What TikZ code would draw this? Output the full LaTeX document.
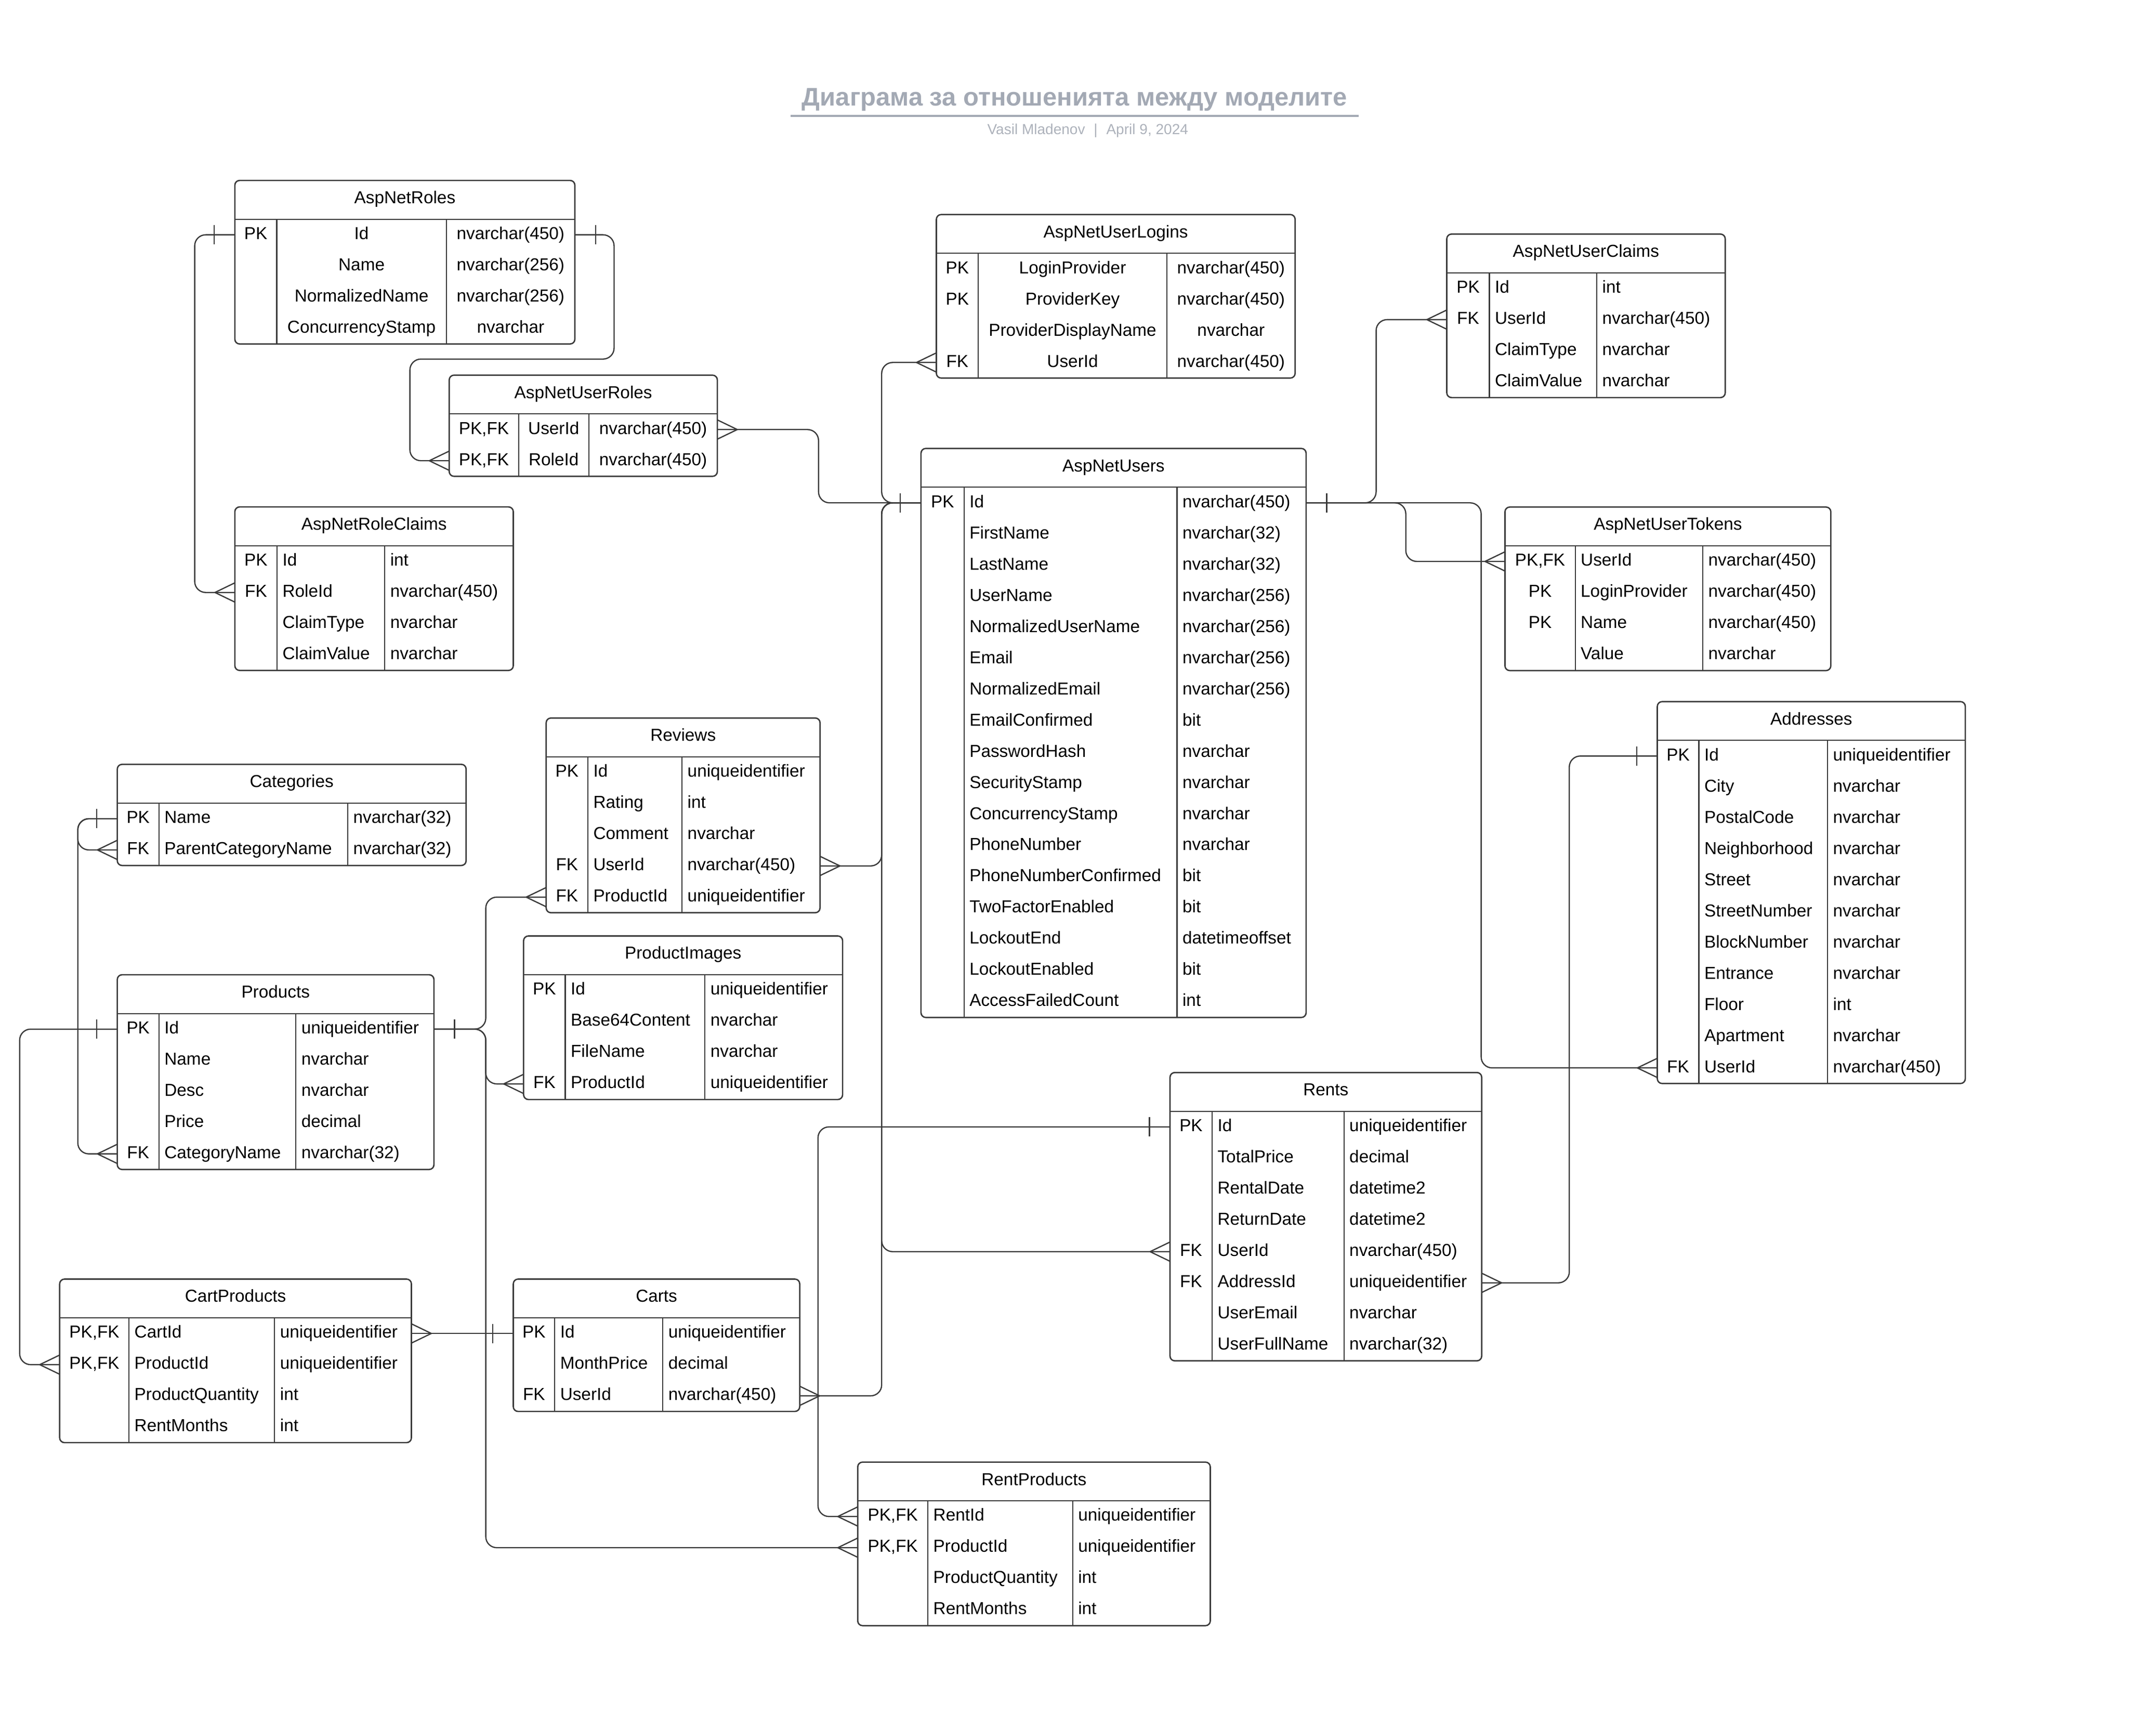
\documentclass[tikz,border=0pt]{standalone}
\usepackage{fontspec}
\setmainfont{Liberation Sans}
\usetikzlibrary{calc}
\definecolor{ln}{HTML}{3A3A3A}
\definecolor{ttl}{HTML}{A3A9B4}
\definecolor{subc}{HTML}{ADB2BB}
\tikzset{
  tbl/.style={draw=ln, fill=white, line width=1pt, rounded corners=3.5pt, inner sep=0pt, outer sep=0pt},
  div/.style={draw=ln, line width=0.8pt},
  conn/.style={draw=ln, line width=0.9pt, rounded corners=8pt},
  endtick/.style={draw=ln, line width=0.9pt, sharp corners},
  txt/.style={font=\fontsize{12.6}{15}\selectfont, inner sep=0pt, outer sep=0pt, anchor=base, text=black},
}
\newcommand\ertable[9]{%
  \pgfmathsetmacro\eL{#2}%
  \pgfmathsetmacro\eT{#3}%
  \pgfmathsetmacro\eR{#4}%
  \pgfmathsetmacro\eA{#5}%
  \pgfmathsetmacro\eB{#6}%
  \pgfmathsetmacro\eH{\eT+28.2}%
  \foreach [count=\n] \x in {#9} {\xdef\eN{\n}}%
  \pgfmathsetmacro\eBot{\eH+\eN*22.68}%
  \pgfmathsetmacro\eW{\eR-\eL}%
  \pgfmathsetmacro\eHt{\eBot-\eT}%
  \node[tbl, anchor=north west, minimum width=\eW pt, minimum height=\eHt pt] (#1) at (\eL,\eT) {};%
  \draw[div] (\eL,\eH) -- (\eR,\eH) (\eA,\eH) -- (\eA,\eBot) (\eB,\eH) -- (\eB,\eBot);%
  \node[txt] (#1-title) at ({(\eL+\eR)/2},{\eT+16.8}) {#7};%
  \foreach \k/\f/\t [count=\i] in {#9} {%
    \pgfmathsetmacro\yy{\eH+(\i-0.5)*22.68}%
    \pgfmathsetmacro\yb{\yy+3.3}%
    \node[txt] (#1-k\i) at ({(\eL+\eA)/2},\yb) {\k};%
    \if#8c%
      \node[txt] (#1-f\i) at ({(\eA+\eB)/2},\yb) {\f};%
      \node[txt] (#1-t\i) at ({(\eB+\eR)/2},\yb) {\t};%
    \else%
      \node[txt, anchor=base west] (#1-f\i) at (\eA+4,\yb) {\f};%
      \node[txt, anchor=base west] (#1-t\i) at (\eB+4,\yb) {\t};%
    \fi%
    \coordinate (#1-\i-l) at (\eL,\yy);%
    \coordinate (#1-\i-r) at (\eR,\yy);%
  }%
}
\newcommand\crowleft[1]{\draw[endtick] ($(#1)+(-14.5,0)$) -- ($(#1)+(0,-7)$) ($(#1)+(-14.5,0)$) -- ($(#1)+(0,7)$);}
\newcommand\crowright[1]{\draw[endtick] ($(#1)+(14.5,0)$) -- ($(#1)+(0,-7)$) ($(#1)+(14.5,0)$) -- ($(#1)+(0,7)$);}
\newcommand\barleft[1]{\draw[endtick] ($(#1)+(-15,-7)$) -- ($(#1)+(-15,7)$);}
\newcommand\barright[1]{\draw[endtick] ($(#1)+(15,-7)$) -- ($(#1)+(15,7)$);}
\begin{document}
\begin{tikzpicture}[x=1pt, y=-1pt]
\useasboundingbox (0,0) rectangle (1568,1247.5);
\fill[white] (0,0) rectangle (1568,1247.5);

% title
\node[inner sep=0pt, anchor=base, text=ttl, font=\fontsize{18.5}{21}\selectfont\bfseries] (title) at (781.5,76.9) {Диаграма за отношенията между моделите};
\draw[ttl, line width=1.5pt] (575,84.3) -- (988.3,84.3);
\node[inner sep=0pt, anchor=base, text=subc, font=\fontsize{10.6}{12}\selectfont] (subtitle) at (791.1,97.9) {Vasil Mladenov\hspace{0.6em}|\hspace{0.6em}April 9, 2024};

% tables
\ertable{roles}{170.8}{131.2}{418.1}{201.3}{324.6}{AspNetRoles}{c}{PK/Id/nvarchar(450), /Name/nvarchar(256), /NormalizedName/nvarchar(256), /ConcurrencyStamp/nvarchar}
\ertable{userroles}{326.7}{272.8}{521.7}{377.1}{428.3}{AspNetUserRoles}{c}{{PK,FK}/UserId/nvarchar(450), {PK,FK}/RoleId/nvarchar(450)}
\ertable{roleclaims}{170.8}{368.6}{373.3}{201.5}{279.8}{AspNetRoleClaims}{l}{PK/Id/int, FK/RoleId/nvarchar(450), /ClaimType/nvarchar, /ClaimValue/nvarchar}
\ertable{logins}{681}{156}{941.9}{711.5}{848.6}{AspNetUserLogins}{c}{PK/LoginProvider/nvarchar(450), PK/ProviderKey/nvarchar(450), /ProviderDisplayName/nvarchar, FK/UserId/nvarchar(450)}
\ertable{users}{669.8}{326.1}{949.9}{701.1}{856}{AspNetUsers}{l}{PK/Id/nvarchar(450), /FirstName/nvarchar(32), /LastName/nvarchar(32), /UserName/nvarchar(256), /NormalizedUserName/nvarchar(256), /Email/nvarchar(256), /NormalizedEmail/nvarchar(256), /EmailConfirmed/bit, /PasswordHash/nvarchar, /SecurityStamp/nvarchar, /ConcurrencyStamp/nvarchar, /PhoneNumber/nvarchar, /PhoneNumberConfirmed/bit, /TwoFactorEnabled/bit, /LockoutEnd/datetimeoffset, /LockoutEnabled/bit, /AccessFailedCount/int}
\ertable{claims}{1052.2}{170.2}{1254.7}{1083.2}{1161.3}{AspNetUserClaims}{l}{PK/Id/int, FK/UserId/nvarchar(450), /ClaimType/nvarchar, /ClaimValue/nvarchar}
\ertable{tokens}{1094.5}{368.7}{1331.5}{1145.6}{1238.4}{AspNetUserTokens}{l}{{PK,FK}/UserId/nvarchar(450), PK/LoginProvider/nvarchar(450), PK/Name/nvarchar(450), /Value/nvarchar}
\ertable{addresses}{1205.3}{510.2}{1429.3}{1235.5}{1329.1}{Addresses}{l}{PK/Id/uniqueidentifier, /City/nvarchar, /PostalCode/nvarchar, /Neighborhood/nvarchar, /Street/nvarchar, /StreetNumber/nvarchar, /BlockNumber/nvarchar, /Entrance/nvarchar, /Floor/int, /Apartment/nvarchar, FK/UserId/nvarchar(450)}
\ertable{reviews}{397.2}{522.1}{596.4}{427.5}{496}{Reviews}{l}{PK/Id/uniqueidentifier, /Rating/int, /Comment/nvarchar, FK/UserId/nvarchar(450), FK/ProductId/uniqueidentifier}
\ertable{categories}{85.3}{555.8}{339}{115.6}{252.9}{Categories}{l}{PK/Name/nvarchar(32), FK/ParentCategoryName/nvarchar(32)}
\ertable{images}{380.8}{680.6}{612.8}{411.1}{512.7}{ProductImages}{l}{PK/Id/uniqueidentifier, /Base64Content/nvarchar, /FileName/nvarchar, FK/ProductId/uniqueidentifier}
\ertable{products}{85.3}{708.8}{315.6}{115.6}{215.2}{Products}{l}{PK/Id/uniqueidentifier, /Name/nvarchar, /Desc/nvarchar, /Price/decimal, FK/CategoryName/nvarchar(32)}
\ertable{rents}{850.9}{779.9}{1077.6}{881.5}{977.4}{Rents}{l}{PK/Id/uniqueidentifier, /TotalPrice/decimal, /RentalDate/datetime2, /ReturnDate/datetime2, FK/UserId/nvarchar(450), FK/AddressId/uniqueidentifier, /UserEmail/nvarchar, /UserFullName/nvarchar(32)}
\ertable{cartproducts}{43.4}{930.1}{299.2}{93.8}{199.7}{CartProducts}{l}{{PK,FK}/CartId/uniqueidentifier, {PK,FK}/ProductId/uniqueidentifier, /ProductQuantity/int, /RentMonths/int}
\ertable{carts}{373.3}{930.1}{581.6}{403.4}{482.1}{Carts}{l}{PK/Id/uniqueidentifier, /MonthPrice/decimal, FK/UserId/nvarchar(450)}
\ertable{rentproducts}{623.8}{1063.2}{880.2}{674.8}{780.1}{RentProducts}{l}{{PK,FK}/RentId/uniqueidentifier, {PK,FK}/ProductId/uniqueidentifier, /ProductQuantity/int, /RentMonths/int}

% relationships
\draw[conn] (roles-1-l) -- ++(-29.2,0) |- (roleclaims-2-l);
\barleft{roles-1-l} \crowleft{roleclaims-2-l}
\draw[conn] (roles-1-r) -| (446.6,261.1) -| ([xshift=-28.6pt]userroles-2-l) -- (userroles-2-l);
\barright{roles-1-r} \crowleft{userroles-2-l}
\draw[conn] (userroles-1-r) -- ++(73.6,0) |- (users-1-l);
\crowright{userroles-1-r} \barleft{users-1-l}
\draw[conn] (users-1-l) -- ++(-28.6,0) |- (logins-4-l);
\crowleft{logins-4-l}
\draw[conn] (users-1-l) -- ++(-28.6,0) |- (reviews-4-r);
\crowright{reviews-4-r}
\draw[conn] (users-1-l) -- ++(-28.6,0) |- (carts-3-r);
\crowright{carts-3-r}
\draw[conn] (users-1-l) -- ++(-28.6,0) |- (rents-5-l);
\crowleft{rents-5-l}
\draw[conn] (users-1-r) -- ++(50.9,0) |- (claims-2-l);
\barright{users-1-r} \crowleft{claims-2-l}
\draw[conn] (users-1-r) -- ++(72.5,0) |- (tokens-1-l);
\crowleft{tokens-1-l}
\draw[conn] (users-1-r) -- ++(127.3,0) |- (addresses-11-l);
\crowleft{addresses-11-l}
\draw[conn] (addresses-1-l) -- ++(-64,0) |- (rents-6-r);
\barleft{addresses-1-l} \crowright{rents-6-r}
\draw[conn] (categories-1-l) -- ++(-28.7,0) |- (categories-2-l);
\barleft{categories-1-l} \crowleft{categories-2-l}
\draw[conn] (categories-1-l) -- ++(-28.7,0) |- (products-5-l);
\crowleft{products-5-l}
\draw[conn] (products-1-r) -- ++(37.7,0) |- (reviews-5-l);
\barright{products-1-r} \crowleft{reviews-5-l}
\draw[conn] (products-1-r) -- ++(37.7,0) |- (images-4-l);
\crowleft{images-4-l}
\draw[conn] (products-1-r) -- ++(37.7,0) |- (rentproducts-2-l);
\crowleft{rentproducts-2-l}
\draw[conn] (products-1-l) -- ++(-71,0) |- (cartproducts-2-l);
\barleft{products-1-l} \crowleft{cartproducts-2-l}
\draw[conn] (carts-1-l) -- (cartproducts-1-r);
\barleft{carts-1-l} \crowright{cartproducts-1-r}
\draw[conn] (rents-1-l) -- ++(-256,0) |- (rentproducts-1-l);
\barleft{rents-1-l} \crowleft{rentproducts-1-l}
\end{tikzpicture}
\end{document}
